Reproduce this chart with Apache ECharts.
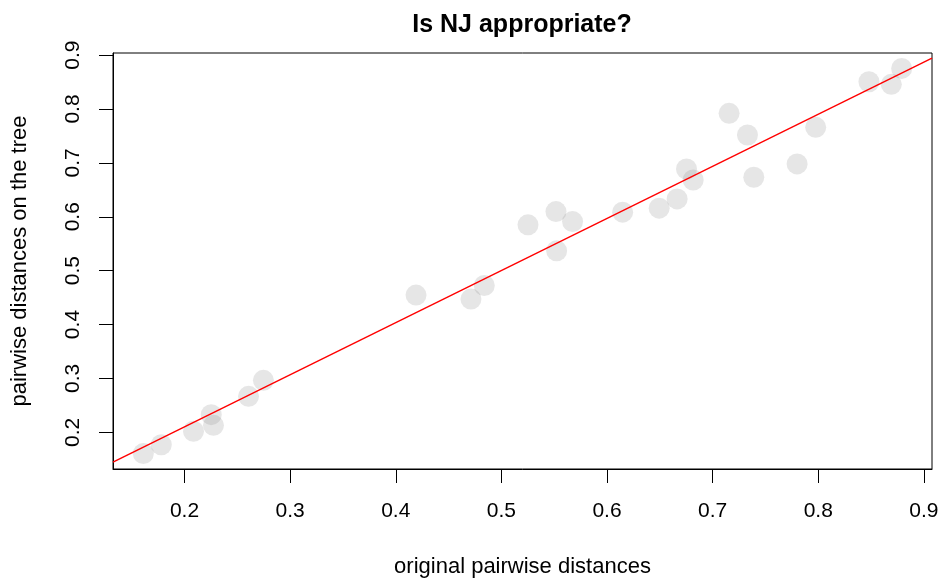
<!DOCTYPE html>
<html>
<head>
<meta charset="utf-8">
<title>Is NJ appropriate?</title>
<script src="https://cdn.jsdelivr.net/npm/echarts@6/dist/echarts.min.js"></script>
<style>
  html, body { margin: 0; padding: 0; background: #fff; }
  #chart { width: 942px; height: 578px; }
</style>
</head>
<body>
<div id="chart"></div>
<script>
// original pairwise distances (x) and distances on the NJ tree (y)
const origDist = [0.161, 0.178, 0.2085, 0.2253, 0.2274, 0.2606, 0.2747,
  0.4192, 0.4712, 0.4838, 0.5252, 0.5517, 0.5523, 0.5674, 0.6148,
  0.6494, 0.6664, 0.6753, 0.6816, 0.7156, 0.733, 0.739, 0.78, 0.7976,
  0.848, 0.8692, 0.879]
const treeDist = [0.1605, 0.177, 0.2019, 0.2328, 0.213, 0.2667, 0.2964,
  0.4546, 0.4472, 0.4724, 0.585, 0.6096, 0.5367, 0.591, 0.6085,
  0.6159, 0.6331, 0.6887, 0.6683, 0.7919, 0.7517, 0.6733, 0.698, 0.766,
  0.8505, 0.8457, 0.8753]
const tickValues = [0.2, 0.3, 0.4, 0.5, 0.6, 0.7, 0.8, 0.9]
// fitted line
const fitIntercept = 0.0167
const fitSlope = 0.9667

// R style axis extent: data range padded by 4% on each side
const pad = arr => {
  const lo = Math.min(...arr), hi = Math.max(...arr)
  const r = hi - lo
  return [lo - 0.04 * r, hi + 0.04 * r]
}
const [xMin, xMax] = pad(origDist)
const [yMin, yMax] = pad(treeDist)

const points = origDist.map((x, i) => [x, treeDist[i]])
const fitLine = [xMin, xMax].map(x => [x, fitIntercept + fitSlope * x])

const font = 'Liberation Sans, Arial, sans-serif'
const chart = echarts.init(document.getElementById('chart'))

chart.setOption({
  animation: false,
  textStyle: { fontFamily: font },
  title: {
    text: 'Is NJ appropriate?',
    left: 517,
    top: 8,
    textAlign: 'center',
    textStyle: { fontSize: 25, fontWeight: 'bold', color: '#000', fontFamily: font }
  },
  grid: {
    left: 113, right: 10, top: 53, bottom: 109,
    outerBoundsMode: 'none',
    containLabel: false,
    show: true, borderColor: '#000', borderWidth: 1
  },
  xAxis: {
    type: 'value',
    min: xMin, max: xMax,
    name: 'original pairwise distances',
    nameLocation: 'middle',
    nameGap: 87,
    nameTextStyle: { fontSize: 22, color: '#000' },
    splitLine: { show: false },
    axisLine: { show: true, lineStyle: { color: '#000', width: 1 } },
    axisTick: { show: true, length: 14, inside: false, customValues: tickValues, lineStyle: { color: '#000' } },
    axisLabel: { customValues: tickValues, fontSize: 21, color: '#000', margin: 32, formatter: v => v.toFixed(1) }
  },
  yAxis: {
    type: 'value',
    min: yMin, max: yMax,
    name: 'pairwise distances on the tree',
    nameLocation: 'middle',
    nameGap: 82,
    nameRotate: 90,
    nameTextStyle: { fontSize: 22, color: '#000' },
    splitLine: { show: false },
    axisLine: { show: true, lineStyle: { color: '#000', width: 1 } },
    axisTick: { show: true, length: 14, customValues: tickValues, lineStyle: { color: '#000' } },
    axisLabel: { customValues: tickValues, rotate: 90, fontSize: 21, color: '#000', margin: 29, formatter: v => v.toFixed(1) }
  },
  series: [
    {
      type: 'scatter',
      data: points,
      symbolSize: 21,
      itemStyle: { color: 'rgba(128,128,128,0.25)' },
      z: 2
    },
    {
      type: 'line',
      data: fitLine,
      symbol: 'none',
      lineStyle: { color: '#ff0000', width: 1.4 },
      z: 3
    }
  ]
})
</script>
</body>
</html>
